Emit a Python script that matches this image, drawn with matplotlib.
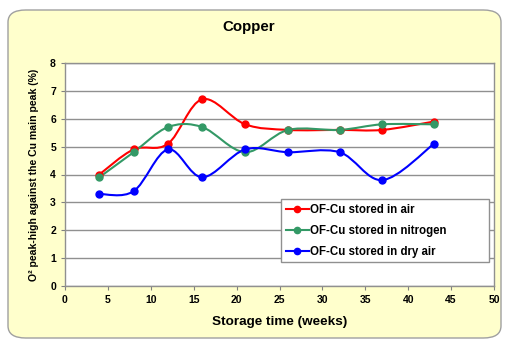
import matplotlib.pyplot as plt
from matplotlib.patches import FancyBboxPatch, PathPatch
from matplotlib.path import Path
from matplotlib.lines import Line2D

weeks = [4, 8, 12, 16, 21, 26, 32, 37, 43]
air = [4.0, 4.9, 5.1, 6.7, 5.8, 5.6, 5.6, 5.6, 5.9]
nitrogen = [3.9, 4.8, 5.7, 5.7, 4.8, 5.6, 5.6, 5.8, 5.8]
dry_air = [3.3, 3.4, 4.9, 3.9, 4.9, 4.8, 4.8, 3.8, 5.1]

labels = ['OF-Cu stored in air', 'OF-Cu stored in nitrogen', 'OF-Cu stored in dry air']
colors = ['#ff0000', '#339966', '#0000ff']

plt.rcParams['font.family'] = ['Liberation Sans', 'DejaVu Sans']
plt.rcParams['font.weight'] = 'bold'


def smooth_path(xs, ys):
    # excel-style smoothed line: bezier segments with catmull-rom handles
    pts = list(zip(xs, ys))
    verts = [pts[0]]
    codes = [Path.MOVETO]
    n = len(pts)
    for i in range(n - 1):
        p0 = pts[max(i - 1, 0)]
        p1 = pts[i]
        p2 = pts[i + 1]
        p3 = pts[min(i + 2, n - 1)]
        c1 = (p1[0] + (p2[0] - p0[0]) / 6, p1[1] + (p2[1] - p0[1]) / 6)
        c2 = (p2[0] - (p3[0] - p1[0]) / 6, p2[1] - (p3[1] - p1[1]) / 6)
        verts += [c1, c2, p2]
        codes += [Path.CURVE4] * 3
    return Path(verts, codes)


fig = plt.figure(figsize=(5.07, 3.46), dpi=100)
fig.patch.set_facecolor('white')
bg = FancyBboxPatch((8 / 507, 8 / 346), 493 / 507, 328 / 346,
                    boxstyle='round,pad=0,rounding_size=0.035',
                    transform=fig.transFigure, facecolor='#ffffcc',
                    edgecolor='#a0a0a0', linewidth=1.0, zorder=-10)
fig.patches.append(bg)

ax = fig.add_axes([65 / 507, 1 - 286 / 346, 429 / 507, 223 / 346])
ax.set_facecolor('white')

for ys, c in zip([air, nitrogen, dry_air], colors):
    ax.add_patch(PathPatch(smooth_path(weeks, ys), facecolor='none',
                           edgecolor=c, linewidth=1.5, zorder=3))
    ax.plot(weeks, ys, linestyle='none', marker='o', markersize=5,
            color=c, zorder=4)

ax.set_xlim(0, 50)
ax.set_ylim(0, 8)
ax.set_xticks(range(0, 51, 5))
ax.set_yticks(range(0, 9))
ax.tick_params(labelsize=7.5, colors='black', length=3, width=0.8)
for t in ax.get_xticklabels() + ax.get_yticklabels():
    t.set_fontweight('bold')
ax.tick_params(axis='both', color='#808080')
ax.grid(axis='y', color='#909090', linewidth=1.0)
ax.set_axisbelow(True)
for s in ax.spines.values():
    s.set_color('#909090')
    s.set_linewidth(1.0)

ax.set_xlabel('Storage time (weeks)', fontsize=9.7, fontweight='bold', labelpad=8)
ax.set_ylabel('O² peak-high against the Cu main peak (%)', fontsize=7.6,
              fontweight='bold', labelpad=8)
fig.text(249 / 507, 1 - 27 / 346, 'Copper', fontsize=10.8, fontweight='bold',
         ha='center', va='center')

# legend box in excel is wider than its text, so stretch it to the box width
handles = [Line2D([], [], color=c, linewidth=1.5, marker='o', markersize=4.5)
           for c in colors]
leg_x0 = (281 - 65) / 429
leg_w = (489 - 281) / 429
leg_top = (286 - 199) / 223
leg = ax.legend(handles, labels, loc='upper left', mode='expand',
                bbox_to_anchor=(leg_x0, leg_top - 0.3, leg_w, 0.3),
                frameon=True, fancybox=False, borderaxespad=0,
                handlelength=2.0, handletextpad=0.15, labelspacing=0.78,
                borderpad=0.4, prop={'weight': 'bold', 'size': 8.3})
leg.get_frame().set_edgecolor('#909090')
leg.get_frame().set_linewidth(1.0)
leg.get_frame().set_alpha(1)

fig.savefig('out.png', dpi=100)
